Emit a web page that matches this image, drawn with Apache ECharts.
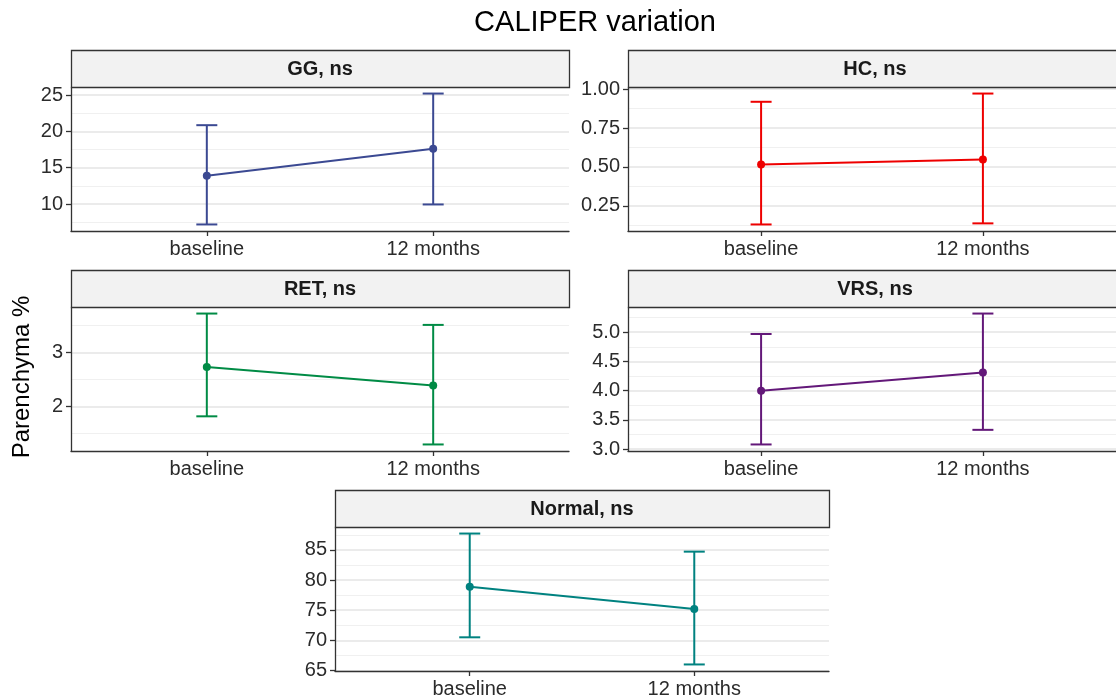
<!DOCTYPE html>
<html>
<head>
<meta charset="utf-8">
<title>CALIPER variation</title>
<script src="https://cdn.jsdelivr.net/npm/echarts@6/dist/echarts.min.js"></script>
<style>
  html, body { margin: 0; padding: 0; background: #fff; }
  #chart { width: 1116px; height: 700px; }
</style>
</head>
<body>
<div id="chart"></div>
<script>
// time points on the x axis
const timepoints = ["baseline", "12 months"];

// mean and 95% CI per pattern
const ggMean = [13.9, 17.6];
const ggLow = [7.2, 9.95];
const ggHigh = [20.85, 25.2];

const hcMean = [0.515, 0.547];
const hcLow = [0.13, 0.137];
const hcHigh = [0.919, 0.972];

const retMean = [2.73, 2.39];
const retLow = [1.82, 1.3];
const retHigh = [3.72, 3.51];

const vrsMean = [4.0, 4.31];
const vrsLow = [3.08, 3.33];
const vrsHigh = [4.97, 5.32];

const normalMean = [78.9, 75.2];
const normalLow = [70.5, 66.0];
const normalHigh = [87.7, 84.7];

// y tick labels (major) and minor grid lines
const ggTicks = [10, 15, 20, 25];
const ggMinor = [7.5, 12.5, 17.5, 22.5];
const hcTicks = [0.25, 0.5, 0.75, 1.0];
const hcMinor = [0.125, 0.375, 0.625, 0.875];
const retTicks = [2, 3];
const retMinor = [1.5, 2.5, 3.5];
const vrsTicks = [3.0, 3.5, 4.0, 4.5, 5.0];
const vrsMinor = [3.25, 3.75, 4.25, 4.75, 5.25];
const normalTicks = [65, 70, 75, 80, 85];
const normalMinor = [67.5, 72.5, 77.5, 82.5, 87.5];

const FONT = "Liberation Sans, Arial, sans-serif";
const STRIP_H = 37;
const PLOT_H = 144;

const panels = [
  { name: "GG, ns", color: "#3B4992", mean: ggMean, low: ggLow, high: ggHigh, ticks: ggTicks, minor: ggMinor, dec: 0, left: 71, top: 87, width: 498 },
  { name: "HC, ns", color: "#EE0000", mean: hcMean, low: hcLow, high: hcHigh, ticks: hcTicks, minor: hcMinor, dec: 2, left: 628, top: 87, width: 494 },
  { name: "RET, ns", color: "#008B45", mean: retMean, low: retLow, high: retHigh, ticks: retTicks, minor: retMinor, dec: 0, left: 71, top: 307, width: 498 },
  { name: "VRS, ns", color: "#631879", mean: vrsMean, low: vrsLow, high: vrsHigh, ticks: vrsTicks, minor: vrsMinor, dec: 1, left: 628, top: 307, width: 494 },
  { name: "Normal, ns", color: "#008280", mean: normalMean, low: normalLow, high: normalHigh, ticks: normalTicks, minor: normalMinor, dec: 0, left: 335, top: 527, width: 494 }
];

// ggplot-like 5% expansion around the error bars
const yRange = p => {
  const lo = Math.min(...p.low);
  const hi = Math.max(...p.high);
  const pad = (hi - lo) * 0.05;
  return [lo - pad, hi + pad];
};

const grid = [];
const xAxis = [];
const yAxis = [];
const series = [];
const graphic = [];

panels.forEach((p, i) => {
  const [ymin, ymax] = yRange(p);
  grid.push({ left: p.left, top: p.top, width: p.width, height: PLOT_H });

  xAxis.push({
    type: "value",
    gridIndex: i,
    min: 0.4,
    max: 2.6,
    axisLine: { show: true, lineStyle: { color: "#333", width: 1.3 } },
    axisTick: { show: true, customValues: [1, 2], length: 5, lineStyle: { color: "#333", width: 1.3 } },
    axisLabel: {
      customValues: [1, 2],
      formatter: v => timepoints[Math.round(v) - 1],
      fontSize: 20,
      fontFamily: FONT,
      color: "#2B2B2B",
      margin: 8
    },
    splitLine: { show: false }
  });

  yAxis.push({
    type: "value",
    gridIndex: i,
    min: ymin,
    max: ymax,
    axisLine: { show: true, lineStyle: { color: "#333", width: 1.3 } },
    axisTick: { show: true, customValues: p.ticks, length: 5, lineStyle: { color: "#333", width: 1.3 } },
    axisLabel: {
      customValues: p.ticks,
      formatter: v => v.toFixed(p.dec),
      fontSize: 20,
      fontFamily: FONT,
      color: "#2B2B2B",
      margin: 8
    },
    splitLine: { show: true, lineStyle: { color: "#E5E5E5", width: 1.5 } }
  });
  // minor grid lines
  yAxis.push({
    type: "value",
    gridIndex: i,
    min: ymin,
    max: ymax,
    position: "left",
    axisLine: { show: false },
    axisTick: { show: false, customValues: p.minor },
    axisLabel: { show: false, customValues: p.minor },
    splitLine: { show: true, lineStyle: { color: "#F0F0F0", width: 1 } }
  });

  series.push({
    type: "custom",
    xAxisIndex: i,
    yAxisIndex: 2 * i,
    z: 2,
    encode: { x: 0, y: [1, 2] },
    data: timepoints.map((t, j) => [j + 1, p.low[j], p.high[j]]),
    renderItem: (params, api) => {
      const x = api.value(0);
      const a = api.coord([x, api.value(1)]);
      const b = api.coord([x, api.value(2)]);
      const hw = 10.5;
      const st = { stroke: p.color, lineWidth: 2 };
      return {
        type: "group",
        children: [
          { type: "line", shape: { x1: a[0], y1: a[1], x2: b[0], y2: b[1] }, style: st },
          { type: "line", shape: { x1: a[0] - hw, y1: a[1], x2: a[0] + hw, y2: a[1] }, style: st },
          { type: "line", shape: { x1: b[0] - hw, y1: b[1], x2: b[0] + hw, y2: b[1] }, style: st }
        ]
      };
    }
  });

  series.push({
    type: "line",
    xAxisIndex: i,
    yAxisIndex: 2 * i,
    z: 3,
    data: timepoints.map((t, j) => [j + 1, p.mean[j]]),
    symbol: "circle",
    symbolSize: 8,
    itemStyle: { color: p.color },
    lineStyle: { color: p.color, width: 2 }
  });

  // facet strip
  graphic.push({
    type: "rect",
    shape: { x: p.left + 0.5, y: p.top - STRIP_H + 0.5, width: p.width, height: STRIP_H },
    style: { fill: "#F2F2F2", stroke: "#333", lineWidth: 1.3 },
    z: 10
  });
  graphic.push({
    type: "text",
    x: p.left + p.width / 2,
    y: p.top - STRIP_H / 2 + 1,
    style: {
      text: p.name,
      fontSize: 20,
      fontWeight: "bold",
      fontFamily: FONT,
      fill: "#1A1A1A",
      align: "center",
      verticalAlign: "middle"
    },
    z: 11
  });
});

graphic.push({
  type: "text",
  x: 595,
  y: 23,
  style: {
    text: "CALIPER variation",
    fontSize: 29,
    fontFamily: FONT,
    fill: "#000",
    align: "center",
    verticalAlign: "middle"
  }
});
graphic.push({
  type: "text",
  x: 22,
  y: 377,
  rotation: Math.PI / 2,
  style: {
    text: "Parenchyma %",
    fontSize: 24,
    fontFamily: FONT,
    fill: "#000",
    align: "center",
    verticalAlign: "middle"
  }
});

const chart = echarts.init(document.getElementById("chart"));
chart.setOption({
  animation: false,
  backgroundColor: "#fff",
  grid,
  xAxis,
  yAxis,
  series,
  graphic
});
window.addEventListener("resize", () => chart.resize());
</script>
</body>
</html>
